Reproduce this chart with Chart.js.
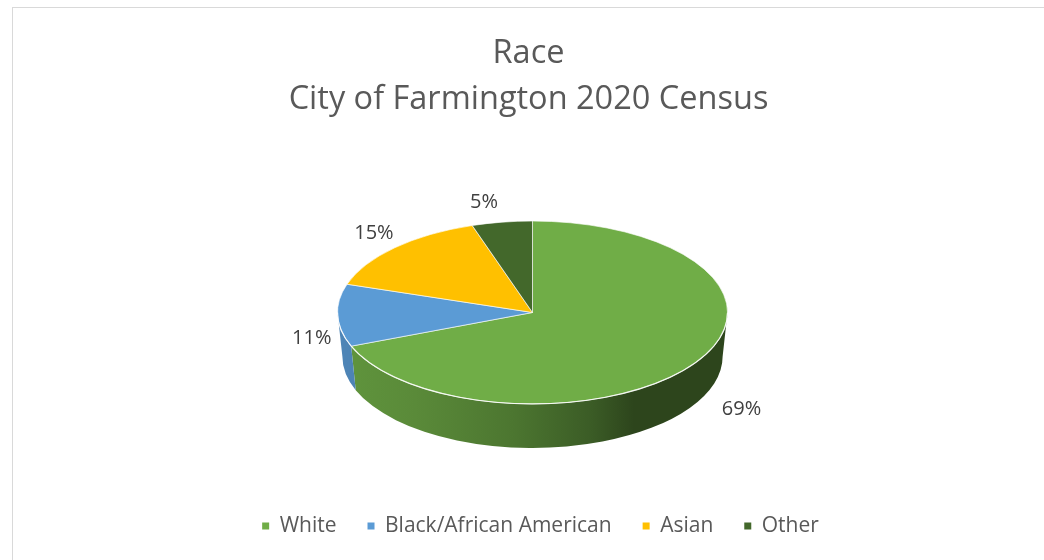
<!DOCTYPE html>
<html>
<head>
<meta charset="utf-8">
<script src="https://cdn.jsdelivr.net/npm/chart.js@4.4.1/dist/chart.umd.min.js"></script>
<style>
  html,body{margin:0;padding:0;background:#fff;overflow:hidden;}
  #box{position:absolute;left:12px;top:7px;width:1041px;height:560px;border-left:1px solid #d9d9d9;border-top:1px solid #d9d9d9;}
  #wrap{position:relative;width:1041px;height:553px;}
</style>
</head>
<body>
<div id="box"><div id="wrap"><canvas id="raceChart"></canvas></div></div>
<script>
/* ── 데이터 ── */
const categories = ['White', 'Black/African American', 'Asian', 'Other'];
const shares     = [69, 11, 15, 5];
const sliceColors= ['#70AD47', '#5B9BD5', '#FFC000', '#43682B'];
const titleLines = ['Race', 'City of Farmington 2020 Census'];

const FONT  = '"Open Sans", "Liberation Sans", sans-serif';
const TILT  = 0.469;   // 원판을 눕힌 비율
const DEPTH = 44;      // 옆면 두께
// 옆면 그라데이션 (왼쪽 밝게 → 오른쪽 어둡게)
const wallStops = [[0,.86],[.2,.8],[.45,.68],[.65,.53],[.76,.4],[1,.4]];

function shade(hex, f){
  const n = parseInt(hex.slice(1),16);
  const r = Math.round(((n>>16)&255)*f), g = Math.round(((n>>8)&255)*f), b = Math.round((n&255)*f);
  return `rgb(${r},${g},${b})`;
}

/* ── 3D 원판 플러그인: 옆면 + 타원 변환 + 퍼센트 라벨 ── */
const pie3d = {
  id:'pie3d',
  afterLayout(chart){
    // 제목은 살짝 왼쪽, 범례는 살짝 오른쪽 (원본 배치)
    chart.titleBlock.left -= 4;  chart.titleBlock.right -= 4;
    chart.legend.left     += 8;  chart.legend.right     += 8;
  },
  beforeDatasetsDraw(chart){
    const arcs = chart.getDatasetMeta(0).data;
    if(!arcs.length) return;
    const {x:cx, y:cy, outerRadius:r} = arcs[0];
    const ry  = r*TILT;
    const ctx = chart.ctx;
    arcs.forEach((arc,i)=>{
      const a = Math.max(arc.startAngle, 0), b = Math.min(arc.endAngle, Math.PI);
      if(b<=a) return;
      const g = ctx.createLinearGradient(cx-r,0,cx+r,0);
      wallStops.forEach(([p,f])=>g.addColorStop(p, shade(sliceColors[i], f)));
      ctx.beginPath();
      ctx.ellipse(cx, cy, r, ry, 0, a, b);
      ctx.ellipse(cx, cy+DEPTH, r*.975, ry, 0, b, a, true);
      ctx.closePath();
      ctx.fillStyle = g;
      ctx.fill();
    });
    ctx.save();
    ctx.translate(cx, cy); ctx.scale(1, TILT); ctx.translate(-cx, -cy);
  },
  afterDatasetsDraw(chart){
    const arcs = chart.getDatasetMeta(0).data;
    if(!arcs.length) return;
    const ctx = chart.ctx;
    ctx.restore();
    const {x:cx, y:cy, outerRadius:r} = arcs[0];
    const ry = r*TILT;

    // 윗면 앞쪽 가장자리 하이라이트
    ctx.beginPath();
    ctx.ellipse(cx, cy, r, ry, 0, 0, Math.PI);
    ctx.strokeStyle = 'rgba(255,255,255,.8)';
    ctx.lineWidth = 1.2;
    ctx.stroke();

    // 퍼센트 라벨
    const total = shares.reduce((s,v)=>s+v,0);
    ctx.font = `20px ${FONT}`;
    ctx.fillStyle = '#404040';
    ctx.textAlign = 'center';
    ctx.textBaseline = 'middle';
    arcs.forEach((arc,i)=>{
      const m = (arc.startAngle+arc.endAngle)/2;
      const c = Math.cos(m), s = Math.sin(m);
      let x = cx + (r+24+(s>0?60*s:0))*c - 15*Math.pow(Math.max(-s,0),4);
      let y = cy + (ry+20)*s;
      if(s>-.2) y += DEPTH*(.5+.5*Math.max(s,0));
      ctx.fillText(Math.round(shares[i]/total*100)+'%', x, y);
    });
  }
};

new Chart(document.getElementById('raceChart'),{
  type:'pie',
  data:{labels:categories, datasets:[{
    data:shares, backgroundColor:sliceColors,
    borderColor:'rgba(255,255,255,.85)', borderWidth:1,
    radius:195, clip:false
  }]},
  options:{
    responsive:true, maintainAspectRatio:false, animation:false,
    layout:{padding:{left:0, right:2, top:0, bottom:14.5}},
    plugins:{
      title:{display:true, text:titleLines, color:'#595959',
        font:{family:FONT, size:32.5, weight:'normal', lineHeight:1.415},
        padding:{top:22.5, bottom:18}},
      legend:{position:'bottom',
        labels:{color:'#595959', font:{family:FONT, size:21}, boxWidth:7, boxHeight:7, padding:31,
          generateLabels(chart){
            return Chart.overrides.pie.plugins.legend.labels.generateLabels(chart)
              .map(it=>({...it, lineWidth:0, fontColor:'#595959'}));
          }}},
      tooltip:{enabled:false}
    }
  },
  plugins:[pie3d]
});
</script>
</body>
</html>
